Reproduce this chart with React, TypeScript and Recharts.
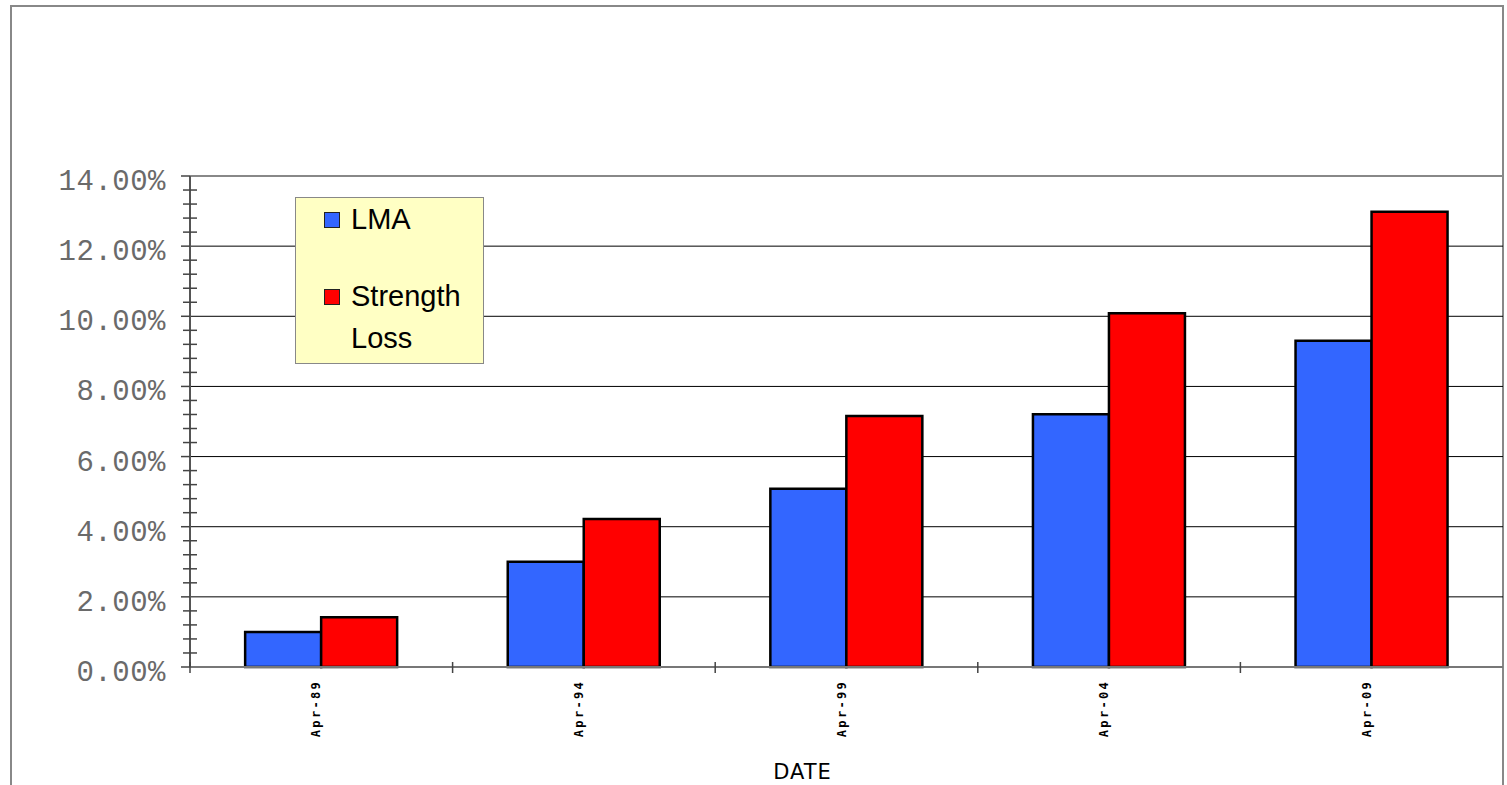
import React from "react";
import {
  Bar, BarChart, CartesianGrid, Legend, ReferenceLine, XAxis, YAxis,
} from "recharts";

const DATES = ["Apr-89", "Apr-94", "Apr-99", "Apr-04", "Apr-09"];
const LMA = [1.0, 3.0, 5.08, 7.21, 9.3];
const STRENGTH_LOSS = [1.42, 4.22, 7.16, 10.09, 12.98];

const MAJOR_TICKS = [0, 2, 4, 6, 8, 10, 12, 14];
const GRID_VALUES = [2, 4, 6, 8, 10, 12];

// each 2% step split into five minor steps
const ALL_TICKS = MAJOR_TICKS.flatMap((t, i) =>
  i === MAJOR_TICKS.length - 1
    ? [t]
    : [0, 1, 2, 3, 4].map((k) => Math.round((t + k * 0.4) * 10) / 10)
);

const data = DATES.map((date, i) => ({
  date,
  lma: LMA[i],
  strength: STRENGTH_LOSS[i],
}));

const BLUE = "#3366FF";
const RED = "#FF0000";

function YTick(props: any) {
  const { x, y, payload } = props;
  const v = payload.value as number;
  const major = MAJOR_TICKS.includes(v);
  if (!major) {
    return <line x1={x - 7} x2={x + 7} y1={y} y2={y} stroke="#444" strokeWidth={1.5} />;
  }
  return (
    <g>
      <line x1={x - 9} x2={x} y1={y} y2={y} stroke="#444" strokeWidth={1.5} />
      <text
        x={x - 24}
        y={y + 14}
        textAnchor="end"
        fill="#6a6a6a"
        fontSize={29}
        letterSpacing={0.5}
        fontFamily="'Liberation Mono', monospace"
      >
        {v.toFixed(2)}%
      </text>
    </g>
  );
}

function XTick(props: any) {
  const { x, y, payload } = props;
  const half = payload.offset ?? 131;
  const bx = x - half;
  return (
    <g>
      <line x1={bx} x2={bx} y1={y - 5} y2={y + 6} stroke="#444" strokeWidth={1.5} />
      <text
        x={x - 1}
        y={680}
        transform={`rotate(-90 ${x - 1} 680)`}
        textAnchor="end"
        fill="#000"
        fontSize={12}
        fontWeight="bold"
        letterSpacing={2.3}
        fontFamily="'DejaVu Sans Mono', monospace"
      >
        {payload.value}
      </text>
    </g>
  );
}

function LegendBox(props: any) {
  const items = props.payload || [];
  const swatch = (color: string) => ({
    position: "absolute" as const,
    left: 28,
    width: 14,
    height: 14,
    background: color,
    border: "1.5px solid #222",
  });
  const text = {
    position: "absolute" as const,
    left: 55,
    fontSize: 29,
    lineHeight: "42px",
    fontFamily: "'Liberation Sans', Arial, sans-serif",
    color: "#000",
    textAlign: "left" as const,
  };
  return (
    <div
      style={{
        position: "relative",
        width: 189,
        height: 167,
        boxSizing: "border-box",
        background: "#FFFFC4",
        border: "1px solid #888",
      }}
    >
      {items.map((it: any, i: number) => (
        <React.Fragment key={it.value}>
          <div style={{ ...swatch(it.color), top: i === 0 ? 14 : 91 }} />
          <div style={{ ...text, top: i === 0 ? 0 : 77 }}>
            {String(it.value).split(" ").map((w: string) => (
              <div key={w}>{w}</div>
            ))}
          </div>
        </React.Fragment>
      ))}
    </div>
  );
}

export default function App() {
  return (
    <div style={{ position: "absolute", left: 0, top: 0, width: 1507, height: 785, background: "#fff", overflow: "hidden" }}>
      <div
        style={{
          position: "absolute",
          left: 10,
          top: 5,
          width: 1494,
          height: 820,
          boxSizing: "border-box",
          border: "2px solid #888",
        }}
      />
      <div style={{ position: "absolute", left: 0, top: 0 }}>
        <BarChart
          width={1507}
          height={785}
          data={data}
          margin={{ top: 176, right: 4, bottom: 0, left: 0 }}
          barCategoryGap="21%"
          barGap={0}
        >
          <CartesianGrid vertical={false} horizontalValues={GRID_VALUES} stroke="#000" strokeWidth={1} />
          <XAxis
            dataKey="date"
            height={118}
            interval={0}
            tickSize={0}
            tickMargin={0}
            tickLine={false}
            axisLine={{ stroke: "#777", strokeWidth: 2 }}
            tick={<XTick />}
            label={{
              value: "DATE",
              position: "insideBottom",
              offset: 6,
              dx: -44,
              style: { fontSize: 21, fill: "#000", fontFamily: "'DejaVu Sans', sans-serif", letterSpacing: 1 },
            }}
          />
          <YAxis
            width={190}
            domain={[0, 14]}
            ticks={ALL_TICKS}
            interval={0}
            tickSize={0}
            tickMargin={0}
            tickLine={false}
            axisLine={{ stroke: "#555", strokeWidth: 2 }}
            tick={<YTick />}
          />
          <ReferenceLine y={14} stroke="#888" strokeWidth={2} />
          <Legend
            layout="vertical"
            align="center"
            verticalAlign="middle"
            wrapperStyle={{ left: 295, top: 197, width: 189, height: 167 }}
            content={<LegendBox />}
          />
          <Bar dataKey="lma" name="LMA" fill={BLUE} stroke="#000" strokeWidth={2.5} isAnimationActive={false} />
          <Bar dataKey="strength" name="Strength Loss" fill={RED} stroke="#000" strokeWidth={2.5} isAnimationActive={false} />
        </BarChart>
      </div>
    </div>
  );
}
